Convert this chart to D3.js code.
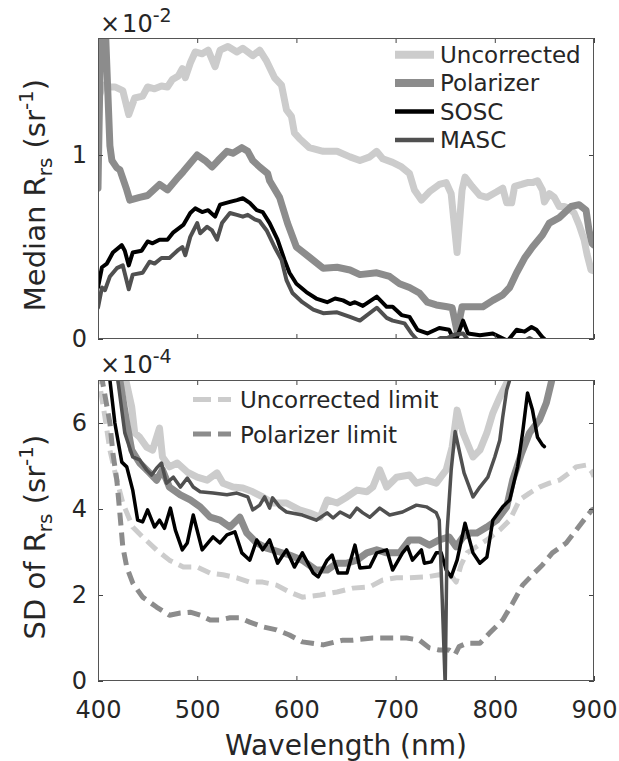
<!DOCTYPE html>
<html><head><meta charset="utf-8">
<script src="https://cdn.jsdelivr.net/npm/d3@7"></script>
<style>
body{margin:0;background:#fff}
svg text{font-family:"DejaVu Sans",sans-serif;fill:#262626}
</style>
</head><body>
<svg id="c" width="619" height="761"></svg>
<script>
// ---------- DATA ----------
// Top panel: median Rrs (x 1e-2 sr^-1)
const uncWlTop = [400,405,410,417,425,431,437,445,450,457,464,470,475,481,485,488,493,498,505,511,518,523,531,540,546,556,563,570,578,585,590,595,598,603,613,627,641,654,664,674,681,687,697,706,714,719,726,734,744,751,756,762,767,770,777,785,792,802,808,812,817,820,827,833,838,843,848,850,855,860,865,870,875,880,885,890,893,897,900];
const uncTop = [1.30,1.38,1.37,1.37,1.35,1.22,1.31,1.32,1.37,1.36,1.375,1.37,1.41,1.43,1.47,1.42,1.50,1.56,1.55,1.57,1.48,1.57,1.59,1.56,1.58,1.54,1.57,1.51,1.42,1.38,1.245,1.21,1.12,1.09,1.04,1.02,1.02,0.99,0.97,0.99,1.02,0.98,0.96,0.935,0.90,0.81,0.755,0.80,0.84,0.85,0.79,0.47,0.81,0.88,0.83,0.78,0.77,0.80,0.82,0.74,0.74,0.83,0.84,0.85,0.85,0.86,0.81,0.745,0.79,0.77,0.72,0.72,0.71,0.685,0.62,0.54,0.46,0.375,0.37];

const polWlTop = [400,403,407,412,414,419,422,429,432,442,450,462,470,481,486,500,508,515,521,530,536,545,551,556,563,571,573,583,591,600,613,627,641,654,664,681,694,704,714,724,732,741,752,757,762,767,775,788,798,808,815,822,830,838,848,855,865,877,885,892,895,898,900];
const polTop = [0.82,1.75,1.75,1.05,0.97,0.93,0.92,0.81,0.755,0.77,0.78,0.84,0.81,0.88,0.91,1.00,0.97,0.935,0.97,1.02,1.01,1.04,1.02,0.97,0.935,0.90,0.86,0.77,0.63,0.50,0.445,0.385,0.39,0.375,0.35,0.36,0.34,0.30,0.28,0.25,0.20,0.185,0.175,0.17,0.04,0.175,0.175,0.175,0.21,0.24,0.28,0.36,0.44,0.50,0.565,0.63,0.66,0.72,0.73,0.70,0.59,0.52,0.51];

const sosWlTop = [400,404,409,415,424,427,431,435,444,450,455,462,470,476,486,493,498,505,511,518,523,533,540,546,553,560,566,573,581,588,593,600,610,620,631,639,647,654,659,667,681,691,697,706,714,722,732,744,754,760,768,773,785,798,813,822,830,837,842,848,850];
const sosTop = [0.28,0.39,0.41,0.47,0.51,0.48,0.40,0.47,0.48,0.53,0.52,0.54,0.54,0.58,0.62,0.685,0.71,0.69,0.70,0.665,0.73,0.745,0.755,0.765,0.74,0.70,0.69,0.63,0.54,0.43,0.36,0.30,0.255,0.22,0.20,0.22,0.21,0.19,0.20,0.18,0.23,0.175,0.175,0.13,0.12,0.05,0.03,0.06,0.05,-0.02,0.10,0.03,0.02,0.03,-0.01,0.05,0.04,0.065,0.05,0.01,0.0];

const masWlTop = [400,404,407,412,419,425,431,435,445,452,457,464,472,480,485,488,493,500,503,510,515,520,525,533,540,546,551,558,563,570,578,585,590,596,606,617,627,641,654,664,681,691,697,709,716,721,730,745,752,760,768,775,790,810,830,835,840,850];
const masTop = [0.17,0.28,0.265,0.34,0.385,0.40,0.27,0.35,0.36,0.42,0.41,0.44,0.44,0.48,0.50,0.455,0.555,0.63,0.575,0.61,0.59,0.54,0.63,0.685,0.675,0.665,0.675,0.65,0.64,0.59,0.50,0.43,0.32,0.25,0.20,0.16,0.14,0.145,0.12,0.10,0.17,0.115,0.10,0.085,0.03,0.0,-0.05,0.005,0.005,0.025,0.03,-0.02,-0.05,-0.05,-0.01,0.005,-0.01,-0.05];

// Bottom panel: SD of Rrs (x 1e-4 sr^-1)
const uncWlBot = [400,420,428,434,437,442,449,455,462,465,472,480,490,500,510,520,526,536,546,556,566,576,590,603,613,624,631,641,651,661,671,677,684,691,701,714,721,731,741,751,757,762,768,778,785,792,798,805,812,820];
const uncSD = [9.5,8.0,7.0,6.37,5.77,5.67,5.44,5.37,5.88,5.21,4.98,5.07,4.86,4.74,4.67,4.84,4.60,4.51,4.49,4.40,4.28,4.14,4.14,3.98,3.91,3.81,4.21,4.14,4.28,4.44,4.40,4.51,4.91,4.51,4.74,4.79,4.60,4.67,4.60,4.91,5.44,6.30,5.77,5.21,5.37,5.77,6.23,6.60,6.93,7.5];

const polWlBot = [400,415,422,429,434,442,452,459,465,472,483,493,503,513,523,533,543,550,560,570,583,593,606,620,631,641,651,661,671,681,691,704,714,724,734,744,754,761,768,775,782,792,802,812,818,827,835,845,852,857,862];
const polSD = [9.5,8.0,7.0,6.0,5.37,5.07,4.84,4.67,4.91,4.51,4.33,4.21,4.05,3.81,3.74,3.58,3.81,3.44,3.21,3.09,3.0,2.93,2.81,2.58,2.58,2.74,2.74,2.81,2.98,3.05,2.98,2.98,3.28,3.28,3.16,3.28,3.35,3.12,3.35,3.44,3.44,3.58,3.74,4.05,4.67,5.30,5.77,6.07,6.47,6.95,7.5];

const sosWlBot = [400,408,412,417,424,429,435,440,445,450,457,462,467,473,478,485,490,496,505,516,523,530,538,545,553,560,566,573,581,590,598,606,617,622,631,636,642,651,659,664,674,681,691,697,707,712,717,726,729,736,741,746,751,756,762,770,778,785,792,798,808,815,823,828,833,838,843,848,850];
const sosSD = [9.5,7.8,7.0,6.0,5.09,4.98,4.44,3.74,3.70,3.98,3.58,3.74,3.55,4.02,3.51,3.05,3.21,3.86,3.05,3.35,3.21,3.40,3.47,2.98,2.81,3.28,3.05,3.28,2.74,3.05,2.65,2.98,2.51,2.42,2.81,2.93,2.51,2.51,3.16,2.63,2.65,2.98,3.05,2.58,2.98,3.12,2.81,3.05,2.74,2.77,2.98,2.98,2.58,2.42,2.81,3.67,2.98,2.74,2.88,3.74,4.05,4.21,4.98,5.77,6.70,6.30,5.67,5.49,5.45];

const masWlBot = [400,415,420,427,435,442,449,454,459,464,469,476,483,490,496,503,516,530,540,551,556,563,568,573,576,583,590,606,620,631,637,644,654,661,667,674,684,694,707,721,731,741,744,747,750,752,756,760,769,778,785,793,800,805,808,812,815,820];
const masSD = [9.5,8.0,7.0,5.77,5.21,5.14,4.91,4.79,4.95,5.07,4.60,4.74,4.51,4.72,4.51,4.40,4.37,4.33,4.37,4.28,3.98,4.09,4.28,4.02,4.26,4.05,3.93,3.86,3.74,3.91,3.79,3.93,3.81,4.02,3.91,3.81,4.02,3.86,3.93,4.09,4.05,3.91,3.74,1.9,-0.1,3.5,4.9,5.8,4.84,4.28,4.51,4.74,5.21,5.60,6.14,6.77,7.0,7.6];

const uncLimWl = [400,402,407,412,419,425,435,445,459,472,486,500,513,526,540,553,566,580,593,606,624,641,657,674,687,701,714,731,744,757,761,766,772,792,805,815,825,835,845,855,865,875,882,892,898,900];
const uncLim = [7.2,6.84,6.14,5.37,4.67,4.14,3.58,3.35,3.05,2.81,2.65,2.65,2.51,2.47,2.40,2.30,2.30,2.23,2.07,1.95,2.0,2.07,2.16,2.19,2.35,2.40,2.40,2.42,2.47,2.42,2.30,2.7,2.98,3.28,3.51,3.74,4.21,4.37,4.51,4.60,4.67,4.84,4.98,5.02,4.86,4.75];

const polLimWl = [400,405,412,415,419,422,425,429,435,445,459,472,483,493,503,513,523,533,543,553,566,580,593,606,627,647,657,677,694,711,724,734,744,754,760,764,772,785,795,808,818,828,838,848,858,872,882,892,898,900];
const polLim = [7.6,6.9,6.0,5.30,4.67,3.91,3.12,2.65,2.28,1.95,1.72,1.53,1.58,1.60,1.53,1.42,1.42,1.47,1.47,1.37,1.26,1.19,1.07,0.91,0.84,0.95,0.95,1.0,1.0,1.0,0.95,0.77,0.72,0.72,0.62,0.80,0.88,0.88,1.12,1.42,1.81,2.23,2.47,2.70,2.98,3.21,3.51,3.81,3.98,4.0];

const xTicks = [400,500,600,700,800,900];
const yTicksTop = [0,1];
const yTicksBot = [0,2,4,6];
const legendTop = ["Uncorrected","Polarizer","SOSC","MASC"];
const legendBot = ["Uncorrected limit","Polarizer limit"];

// ---------- LAYOUT ----------
const L = 98, R = 594;
const topP = {t:38, b:339, dom:[0,1.636]};
const botP = {t:380, b:681, dom:[0,7]};
const cUnc = "#cccccc", cPol = "#8c8c8c", cSos = "#000000", cMas = "#505050";

const svg = d3.select("#c");
svg.append("rect").attr("width",619).attr("height",761).attr("fill","#fff");
const x = d3.scaleLinear().domain([400,900]).range([L,R]);
const yT = d3.scaleLinear().domain(topP.dom).range([topP.b, topP.t]);
const yB = d3.scaleLinear().domain(botP.dom).range([botP.b, botP.t]);

const defs = svg.append("defs");
[["clipT",topP],["clipB",botP]].forEach(([id,p])=>{
  defs.append("clipPath").attr("id",id).append("rect")
    .attr("x",L).attr("y",p.t).attr("width",R-L).attr("height",p.b-p.t);
});

function drawLine(g, ys, wl, vals, color, width, dash){
  const line = d3.line().x((d,i)=>x(wl[i])).y(d=>ys(d));
  g.append("path").datum(vals).attr("d",line)
   .attr("fill","none").attr("stroke",color).attr("stroke-width",width)
   .attr("stroke-linejoin","round").attr("stroke-linecap", dash ? "butt" : "round")
   .attr("stroke-dasharray", dash || null);
}

// ---------- TOP PANEL ----------
const gT = svg.append("g").attr("clip-path","url(#clipT)");
drawLine(gT, yT, uncWlTop, uncTop, cUnc, 7);
drawLine(gT, yT, polWlTop, polTop, cPol, 7);
drawLine(gT, yT, sosWlTop, sosTop, cSos, 4);
drawLine(gT, yT, masWlTop, masTop, cMas, 4);

// ---------- BOTTOM PANEL ----------
const gB = svg.append("g").attr("clip-path","url(#clipB)");
drawLine(gB, yB, uncLimWl, uncLim, cUnc, 5, "13,7");
drawLine(gB, yB, polLimWl, polLim, cPol, 5, "13,7");
drawLine(gB, yB, uncWlBot, uncSD, cUnc, 7);
drawLine(gB, yB, polWlBot, polSD, cPol, 7);
drawLine(gB, yB, sosWlBot, sosSD, cSos, 3.5);
drawLine(gB, yB, masWlBot, masSD, cMas, 3.5);

// ---------- AXES ----------
function axes(p, ys, yTicks, showX){
  const ax = svg.append("g");
  ax.append("g").attr("transform",`translate(0,${p.b})`)
    .call(d3.axisBottom(x).tickValues(xTicks).tickSize(-5).tickSizeOuter(0).tickPadding(20)
      .tickFormat(showX ? d3.format("d") : ""));
  ax.append("g").attr("transform",`translate(0,${p.t})`)
    .call(d3.axisTop(x).tickValues(xTicks).tickSize(-5).tickSizeOuter(0).tickFormat(""));
  ax.append("g").attr("transform",`translate(${L},0)`)
    .call(d3.axisLeft(ys).tickValues(yTicks).tickSize(-5).tickSizeOuter(0).tickPadding(11).tickFormat(d3.format("d")));
  ax.append("g").attr("transform",`translate(${R},0)`)
    .call(d3.axisRight(ys).tickValues(yTicks).tickSize(-5).tickSizeOuter(0).tickFormat(""));
  ax.selectAll(".domain").remove();
  ax.selectAll(".tick line").attr("stroke","#444").attr("stroke-width",1);
  ax.selectAll("text").attr("font-family","DejaVu Sans").attr("font-size",24).attr("fill","#262626");
  ax.append("rect").attr("x",L+0.5).attr("y",p.t+0.5).attr("width",R-L-1).attr("height",p.b-p.t-1)
    .attr("fill","none").attr("stroke","#555").attr("stroke-width",1);
}
axes(topP, yT, yTicksTop, false);
axes(botP, yB, yTicksBot, true);

// exponent labels
function expo(y, e){
  const t = svg.append("text").attr("x",100).attr("y",y).attr("font-size",24);
  t.append("tspan").text("×");
  t.append("tspan").attr("dx",2).text("10");
  t.append("tspan").attr("font-size",19).attr("dy",-10).text(e);
}
expo(32, "-2");
expo(373, "-4");

// y labels
function ylab(cy, main){
  const t = svg.append("text").attr("text-anchor","middle").attr("font-size",29)
    .attr("transform",`translate(45,${cy}) rotate(-90)`);
  t.append("tspan").text(main + " R");
  t.append("tspan").attr("font-size",20).attr("dy",7).text("rs");
  t.append("tspan").attr("dy",-7).text(" (sr");
  t.append("tspan").attr("font-size",20).attr("dy",-12).text("-1");
  t.append("tspan").attr("dy",12).text(")");
}
ylab(195, "Median");
ylab(537, "SD of");

svg.append("text").attr("x",346).attr("y",755).attr("text-anchor","middle")
  .attr("font-size",28).text("Wavelength (nm)");

// ---------- LEGENDS ----------
const lgTopStyle = [[cUnc,8],[cPol,8],[cSos,4.5],[cMas,4.5]];
legendTop.forEach((name,i)=>{
  const by = 63 + i*28.4;
  svg.append("line").attr("x1",395).attr("x2",434).attr("y1",by-8.3).attr("y2",by-8.3)
    .attr("stroke",lgTopStyle[i][0]).attr("stroke-width",lgTopStyle[i][1]);
  svg.append("text").attr("x",440).attr("y",by).attr("font-size",23).text(name);
});
const lgBotStyle = [cUnc,cPol];
legendBot.forEach((name,i)=>{
  const by = 408 + i*34.5;
  svg.append("line").attr("x1",193).attr("x2",231).attr("y1",by-8.5).attr("y2",by-8.5)
    .attr("stroke",lgBotStyle[i]).attr("stroke-width",5).attr("stroke-dasharray","18,7");
  svg.append("text").attr("x",240).attr("y",by).attr("font-size",23).text(name);
});
</script>
</body></html>
